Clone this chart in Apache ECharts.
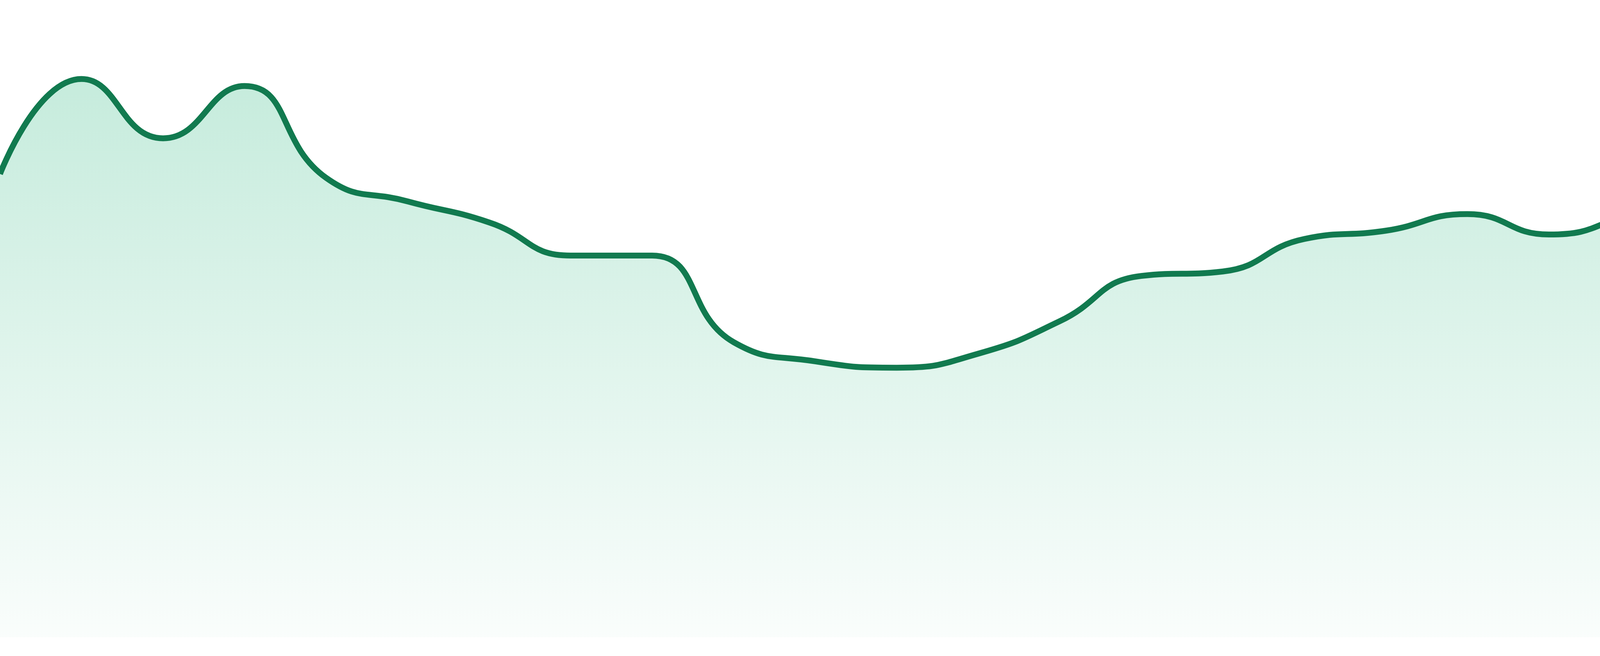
<!DOCTYPE html>
<html>
<head>
<meta charset="utf-8">
<title>Area sparkline</title>
<script src="https://cdn.jsdelivr.net/npm/echarts@6/dist/echarts.min.js"></script>
<style>
  html, body { margin: 0; padding: 0; background: #ffffff; }
  #container { width: 4800px; height: 1680px; }
</style>
</head>
<body>
<div id="container"></div>
<script>
// categories (hidden axis) and values
var days = ['01', '02', '03', '04', '05', '06', '07', '08', '09', '10', '11', '12',
            '13', '14', '15', '16', '17', '18', '19', '20', '21', '22', '23', '24'];
var values = [72.7, 87.6, 78.3, 86.5, 72.1, 68.4, 65.1, 59.9, 59.9, 46.3, 43.3, 42.3,
              44.5, 49.6, 56.7, 57.4, 62.5, 63.8, 66.4, 63.2, 66.5, 71.9, 76.4, 69.1];

var dom = document.getElementById('container');
var myChart = echarts.init(dom, null, { renderer: 'canvas' });

var option = {
    animation: false,
    backgroundColor: '#ffffff',
    grid: {
        left: 0,
        right: 0,
        top: 0,
        bottom: 48
    },
    xAxis: {
        type: 'category',
        data: days,
        boundaryGap: false,
        show: false
    },
    yAxis: {
        type: 'value',
        min: 0,
        max: 100,
        show: false
    },
    series: [{
        type: 'line',
        data: values,
        smooth: true,
        symbol: 'none',
        lineStyle: {
            color: '#117a4f',
            width: 15
        },
        areaStyle: {
            // fades from mint at the top of the area to almost white at the bottom
            color: new echarts.graphic.LinearGradient(0, 0, 0, 1, [
                { offset: 0, color: 'rgba(40,182,125,0.38)' },
                { offset: 1, color: 'rgba(40,182,125,0.035)' }
            ])
        }
    }]
};

myChart.setOption(option, true);
</script>
</body>
</html>
